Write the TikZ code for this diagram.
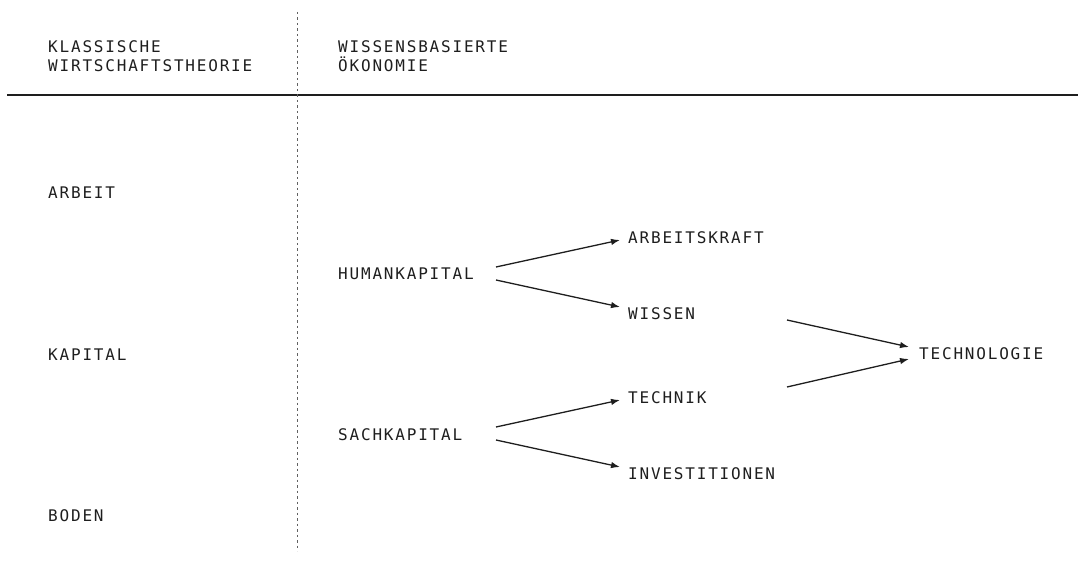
\documentclass[tikz,border=0pt]{standalone}
\usepackage{fontspec}
\newfontfamily\monofnt[LetterSpace=11.3]{DejaVu Sans Mono}
\usetikzlibrary{arrows.meta}
\definecolor{ink}{HTML}{1e1e1e}
\tikzset{
  lbl/.style={anchor=base west, inner sep=0pt, text=ink, font=\monofnt\fontsize{16pt}{18pt}\selectfont},
  arr/.style={draw=ink, line width=1.3pt, -{Latex[length=9pt,width=6.5pt]}},
  rule/.style={draw=ink, line width=1.2pt},
  sep/.style={draw=ink!70, line width=0.8pt, dash pattern=on 2.5pt off 3pt}
}
\begin{document}
\begin{tikzpicture}[x=1pt,y=-1pt]
\useasboundingbox (0,0) rectangle (1078,561);
% header
\node[lbl] (h1a) at (48,53) {KLASSISCHE};
\node[lbl] (h1b) at (48,72) {WIRTSCHAFTSTHEORIE};
\node[lbl] (h2a) at (338,53) {WISSENSBASIERTE};
\node[lbl] (h2b) at (338,72) {ÖKONOMIE};
\coordinate (rl) at (7,95);
\coordinate (rr) at (1078,95);
\draw[rule] (rl) -- (rr);
\coordinate (st) at (297,12);
\coordinate (sb) at (297,551);
\draw[sep] (st) -- (sb);
% left column
\node[lbl] (arbeit) at (48,198.5) {ARBEIT};
\node[lbl] (kapital) at (48,360) {KAPITAL};
\node[lbl] (boden) at (48,521) {BODEN};
% middle
\node[lbl] (hum) at (338,279.5) {HUMANKAPITAL};
\node[lbl] (sach) at (338,440.5) {SACHKAPITAL};
\node[lbl] (ak) at (628,243.5) {ARBEITSKRAFT};
\node[lbl] (wis) at (628,319) {WISSEN};
\node[lbl] (tec) at (628,403) {TECHNIK};
\node[lbl] (inv) at (628,479) {INVESTITIONEN};
\node[lbl] (tlg) at (919,359) {TECHNOLOGIE};
% arrows
\draw[arr] ([shift={(158pt,12.5pt)}]hum.base west) -- ([shift={(-8pt,3.5pt)}]ak.base west);
\draw[arr] ([shift={(158pt,-0.5pt)}]hum.base west) -- ([shift={(-8pt,12pt)}]wis.base west);
\draw[arr] ([shift={(158pt,13.5pt)}]sach.base west) -- ([shift={(-8pt,3pt)}]tec.base west);
\draw[arr] ([shift={(158pt,0.5pt)}]sach.base west) -- ([shift={(-8pt,12pt)}]inv.base west);
\draw[arr] ([shift={(159pt,-1pt)}]wis.base west) -- ([shift={(-10pt,12pt)}]tlg.base west);
\draw[arr] ([shift={(159pt,16pt)}]tec.base west) -- ([shift={(-10pt,0pt)}]tlg.base west);
\end{tikzpicture}
\end{document}
